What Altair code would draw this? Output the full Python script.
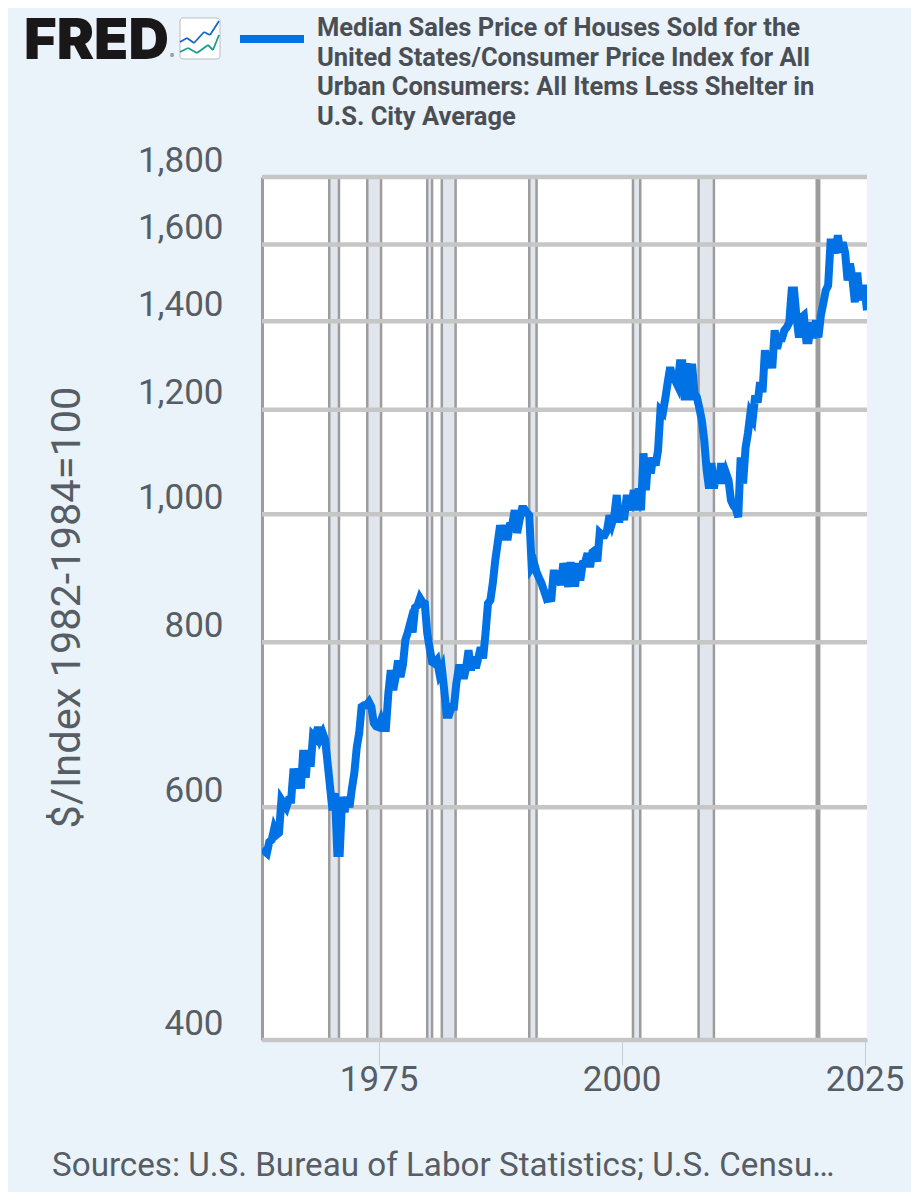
#!/usr/bin/env python3
"""FRED: median sales price of houses sold, deflated by CPI less shelter."""

import altair as alt
import pandas as pd

_BG = "#EAF2FA"
_INK = "#575D64"
_LEGEND_INK = "#4A4F55"
_BLUE = "#0072E5"
_GRID = "#C6C6C6"
_EDGE = "#9C9C9C"
_BAND = "#E1E5EC"

START_YEAR = 1963
END_YEAR = 2025.25

# quarterly values, 1963 Q1 onward
price = [
    558, 556, 554, 565, 567, 578, 572, 574, 608, 604, 600, 608, 608, 642, 620, 642, 620, 663, 632, 663,
    644, 680, 677, 690, 677, 683, 675, 648, 622, 597, 615, 554, 554, 611, 595, 611, 600, 620, 637, 666,
    683, 715, 717, 717, 721, 715, 695, 691, 690, 698, 689, 689, 732, 762, 736, 753, 775, 753, 769, 803,
    814, 827, 814, 850, 853, 864, 858, 856, 813, 792, 773, 771, 775, 758, 765, 736, 705, 705, 715, 715,
    745, 765, 765, 751, 765, 789, 762, 780, 765, 778, 793, 778, 813, 856, 861, 887, 923, 951, 981, 956,
    981, 956, 981, 983, 1007, 968, 990, 1009, 1009, 1003, 998, 912, 918, 904, 895, 887, 876, 865, 868, 859,
    902, 902, 899, 884, 918, 904, 881, 920, 887, 887, 918, 891, 918, 920, 934, 912, 936, 939, 921, 968,
    964, 964, 972, 998, 984, 998, 1034, 986, 1012, 990, 1028, 1028, 1007, 1043, 1007, 1046, 1007, 1112, 1043, 1104,
    1074, 1104, 1089, 1118, 1199, 1194, 1224, 1259, 1292, 1267, 1263, 1252, 1301, 1301, 1220, 1301, 1220, 1300, 1235, 1226,
    1203, 1178, 1138, 1080, 1046, 1093, 1046, 1074, 1055, 1093, 1055, 1074, 1061, 1025, 1015, 1010, 995, 1104, 1055, 1122,
    1152, 1192, 1182, 1230, 1215, 1259, 1237, 1331, 1290, 1326, 1290, 1378, 1335, 1359, 1359, 1378, 1385, 1397, 1477, 1477,
    1409, 1361, 1409, 1414, 1354, 1354, 1397, 1359, 1402, 1361, 1414, 1444, 1477, 1490, 1606, 1606, 1576, 1626, 1578, 1606,
    1578, 1503, 1548, 1508, 1447, 1524, 1452, 1482, 1482, 1427,
]
recession_start = [1969.92, 1973.83, 1980.0, 1981.5, 1990.5, 2001.17, 2007.92, 2020.08]
recession_end = [1970.92, 1975.25, 1980.5, 1982.92, 1991.25, 2001.92, 2009.5, 2020.33]
y_ticks = [400, 600, 800, 1000, 1200, 1400, 1600, 1800]
x_ticks = [1975, 2000, 2025]
legend_lines = [
    "Median Sales Price of Houses Sold for the",
    "United States/Consumer Price Index for All",
    "Urban Consumers: All Items Less Shelter in",
    "U.S. City Average",
]
source_note = "Sources: U.S. Bureau of Labor Statistics; U.S. Censu…"

# logo sparklines, pixels from the plot's top-left corner
icon_blue = [(-82, -135), (-75, -139), (-68, -134), (-58, -145), (-52, -142), (-43, -156)]
icon_green = [(-82, -125), (-74, -129), (-65, -124), (-54, -132), (-49, -127), (-43, -142)]

years = [START_YEAR + i * 0.25 for i in range(len(price))]
series = pd.DataFrame({"year": years, "price": price})
bands = pd.DataFrame({"start": recession_start, "end": recession_end})
grid = pd.DataFrame({"price": y_ticks})

x_scale = alt.Scale(domain=[START_YEAR, END_YEAR], nice=False, zero=False)
y_scale = alt.Scale(type="log", domain=[400, 1800], nice=False)
x_axis = alt.Axis(values=x_ticks, format="d", grid=False, tickSize=25, tickWidth=1,
                  tickColor="#C5CCD8", domainColor="#BBBBBB", domainWidth=3,
                  labelFontSize=35, labelFont="Roboto", labelColor=_INK,
                  labelPadding=-3, labelFlush=False, labelOverlap=False, title=None)
y_axis = alt.Axis(values=y_ticks, format=",", grid=False, ticks=False,
                  domainColor=_EDGE, domainWidth=3, labelFontSize=35,
                  labelFont="Roboto", labelColor=_INK, labelPadding=39, labelOffset=-17,
                  title="$/Index 1982-1984=100", titleFont="Roboto", titleFontSize=41.5,
                  titleFontWeight="normal", titleColor=_INK, titleX=-174, titleY=430)

band_rect = alt.Chart(bands).mark_rect(color=_BAND).encode(
    x=alt.X("start:Q", scale=x_scale, axis=x_axis), x2="end:Q")
band_left = alt.Chart(bands).mark_rule(color=_EDGE, strokeWidth=2.5).encode(
    x=alt.X("start:Q", scale=x_scale, axis=x_axis))
band_right = alt.Chart(bands).mark_rule(color=_EDGE, strokeWidth=2.5).encode(
    x=alt.X("end:Q", scale=x_scale, axis=x_axis))
grid_rule = alt.Chart(grid).mark_rule(color=_GRID, strokeWidth=4.5).encode(
    y=alt.Y("price:Q", scale=y_scale, axis=y_axis))
line = alt.Chart(series).mark_line(color=_BLUE, strokeWidth=8, strokeJoin="miter", strokeMiterLimit=4,
                                   strokeCap="butt", clip=True).encode(
    x=alt.X("year:Q", scale=x_scale, axis=x_axis),
    y=alt.Y("price:Q", scale=y_scale, axis=y_axis))


def _text(label, x, y, **style):
    """A piece of fixed page text, placed in pixels from the plot corner."""
    return alt.Chart(alt.Data(values=[{}])).mark_text(text=label, **style).encode(
        x=alt.value(x), y=alt.value(y))


def _segment(x, y, x2, y2, color, width):
    return alt.Chart(alt.Data(values=[{}])).mark_rule(color=color, strokeWidth=width).encode(
        x=alt.value(x), y=alt.value(y), x2=alt.value(x2), y2=alt.value(y2))


def _polyline(points, color):
    return [_segment(a[0], a[1], b[0], b[1], color, 1.8) for a, b in zip(points, points[1:])]


chrome = [
    _text("FRED", -238, -135, font="Inter", fontSize=56, fontWeight=900, color="#1A1718", align="left"),
    _text("®", -92, -121, font="Inter", fontSize=6, color="#555555", align="left"),
    alt.Chart(alt.Data(values=[{}])).mark_rect(fill="white", stroke="#B9BEC4", strokeWidth=1, cornerRadius=3).encode(
        x=alt.value(-82), x2=alt.value(-42), y=alt.value(-159), y2=alt.value(-118)),
    *_polyline(icon_blue, "#1268C8"),
    *_polyline(icon_green, "#1E9C8A"),
    _segment(-22, -138, 42, -138, _BLUE, 8),
    _text(source_note, -210, 989, font="Roboto", fontSize=33.2, color=_INK, align="left"),
]
for row, label in enumerate(legend_lines):
    chrome.append(_text(label, 55, -149 + row * 29.7, font="Roboto", fontSize=25.5, fontWeight="bold",
                        color=_LEGEND_INK, align="left"))

chart = alt.layer(band_rect, band_left, band_right, grid_rule, line, *chrome).properties(
    width=605, height=863, background=_BG,
    autosize=alt.AutoSizeParams(type="none"),
    padding={"left": 254, "top": 169, "right": 44, "bottom": 152},
    usermeta={"embedOptions": {"defaultStyle": "html,body{background:#EAF2FA}"}},
).configure_view(fill="white", strokeWidth=0)

chart.save("out.html", embed_options={"renderer": "svg", "actions": False})
